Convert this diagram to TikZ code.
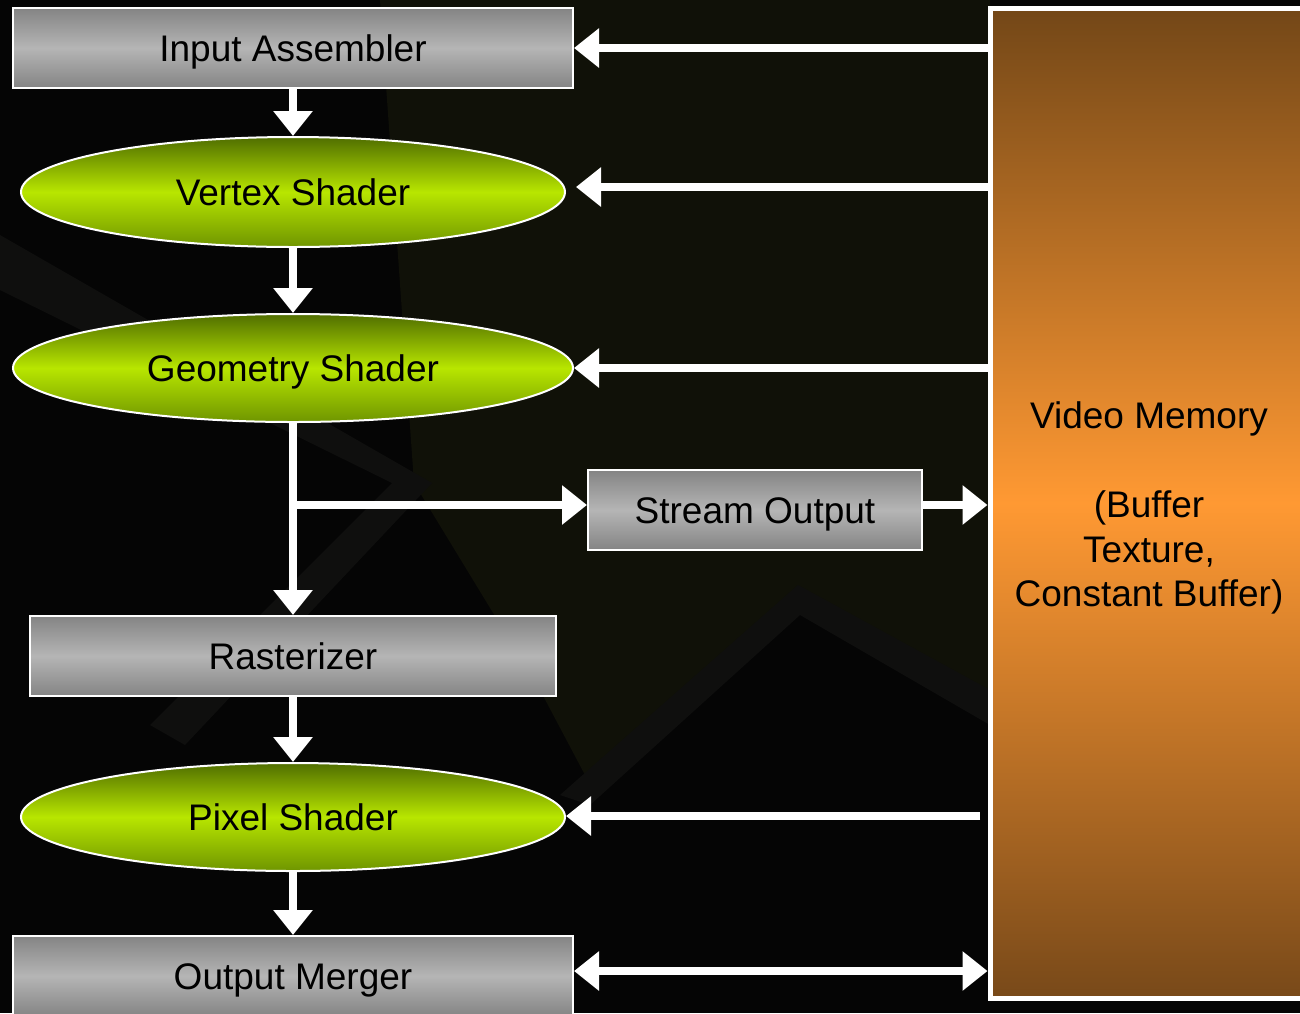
\documentclass[tikz,border=0pt]{standalone}
\usepackage{fontspec}
\setmainfont{Liberation Sans}
\usetikzlibrary{arrows.meta,shapes.geometric}
\definecolor{bgc}{HTML}{050505}
\definecolor{olivebg}{HTML}{101108}
\definecolor{streak}{HTML}{0F0F0E}
\definecolor{rtop}{HTML}{848484}
\definecolor{rmid}{HTML}{B5B5B5}
\definecolor{etop}{HTML}{506E00}
\definecolor{emid}{HTML}{B8E600}
\definecolor{ebot}{HTML}{6F9500}
\definecolor{vtop}{HTML}{734717}
\definecolor{vmid}{HTML}{FF9933}
\definecolor{vbot}{HTML}{784919}
\tikzset{
  label font/.style={font=\fontsize{37}{44.5}\selectfont, text=black},
  graybox/.style={rectangle, draw=white, line width=2pt, minimum height=80pt,
    inner sep=0pt, top color=rtop, bottom color=rtop, middle color=rmid, label font,
    text height=27pt, text depth=0pt},
  greenell/.style={ellipse, draw=white, line width=2pt, inner sep=0pt,
    top color=etop, bottom color=ebot, middle color=emid, label font,
    text height=27pt, text depth=0pt},
  flow/.style={draw=white, line width=8pt, -{Triangle[width=38pt,length=25pt]}},
  dflow/.style={draw=white, line width=8pt, {Triangle[width=38pt,length=25pt]}-{Triangle[width=38pt,length=25pt]}}
}
\begin{document}
\begin{tikzpicture}[x=1pt,y=-1pt]
\useasboundingbox (0,0) rectangle (1300,1013);
\clip (0,0) rectangle (1300,1013);
\fill[bgc] (0,0) rectangle (1300,1013);
% background decoration
\fill[olivebg] (380,0) -- (990,0) -- (990,700) -- (798,592) -- (585,775) -- (540,690) -- (414,483) -- cycle;
\fill[streak] (0,235) -- (432,483) -- (185,745) -- (150,725) -- (392,483) -- (0,290) -- cycle;
\fill[streak] (560,795) -- (798,585) -- (990,690) -- (990,725) -- (800,615) -- (590,805) -- cycle;

% video memory
\node[rectangle, draw=white, line width=5pt, minimum width=318pt, minimum height=990pt,
  inner sep=0pt, top color=vtop, bottom color=vbot, middle color=vmid] (vm) at (1149,503) {};
\node[label font, align=center] (vmtext) at (1149,508)
  {Video Memory\\~\\(Buffer\\Texture,\\Constant Buffer)};

% pipeline
\node[graybox, minimum width=560pt] (ia) at (293,48) {Input Assembler};
\node[greenell, minimum width=544pt, minimum height=110pt] (vs) at (293,192) {Vertex Shader};
\node[greenell, minimum width=560pt, minimum height=108pt] (gs) at (293,368) {Geometry Shader};
\node[graybox, minimum width=334pt] (so) at (755,510) {Stream Output};
\node[graybox, minimum width=526pt] (ras) at (293,656) {Rasterizer};
\node[greenell, minimum width=544pt, minimum height=108pt] (ps) at (293,817) {Pixel Shader};
\node[graybox, minimum width=560pt] (om) at (293,976) {Output Merger};

\coordinate (br) at (293,505);
\coordinate (psin) at (980,816);

% vertical flow
\draw[flow] (ia) -- (vs);
\draw[flow] (vs) -- (gs);
\draw[flow] (gs) -- (ras);
\draw[flow] (ras) -- (ps);
\draw[flow] (ps) -- (om);
\draw[flow] (br) -- (so.west |- br);
\draw[flow] (so.east |- br) -- (vm.west |- br);

% memory access
\draw[flow] (vm.west |- ia.east) -- (ia.east);
\draw[flow, shorten >=10pt] (vm.west |- 0,187) -- (vs.east |- 0,187);
\draw[flow] (vm.west |- gs.east) -- (gs.east);
\draw[flow] (psin) -- (ps.east |- psin);
\draw[dflow] (om.east |- 0,971) -- (vm.west |- 0,971);
\end{tikzpicture}
\end{document}
